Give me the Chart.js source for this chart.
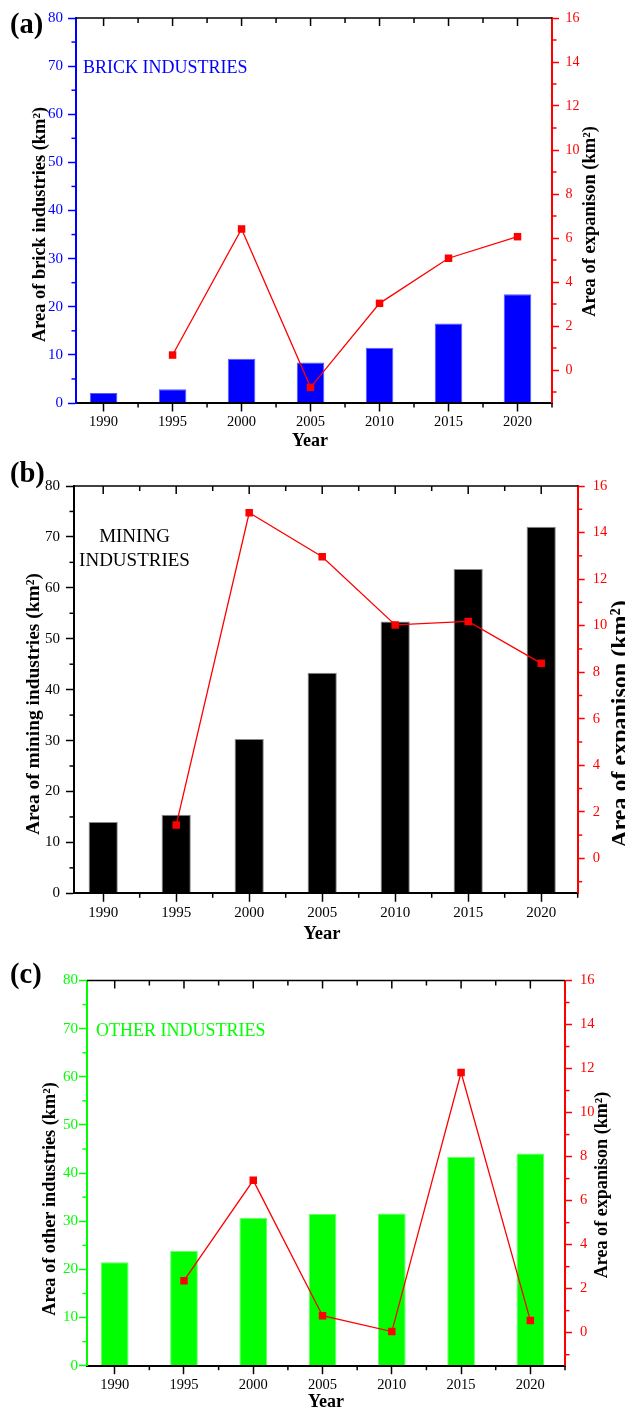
<!DOCTYPE html>
<html><head><meta charset="utf-8">
<script src="https://cdn.jsdelivr.net/npm/chart.js@4.4.0/dist/chart.umd.min.js"></script>
<style>
html,body{margin:0;padding:0;background:#fff;width:625px;height:1410px;overflow:hidden}
canvas{position:absolute;left:0}
</style></head><body>
<canvas id="ca" width="625" height="450" style="top:0px"></canvas>
<canvas id="cb" width="625" height="495" style="top:450px"></canvas>
<canvas id="cc" width="625" height="465" style="top:945px"></canvas>
<script>
// ---------- DATA ----------
const years = [1990, 1995, 2000, 2005, 2010, 2015, 2020];
const brickArea = [2.1, 2.85, 9.2, 8.4, 11.5, 16.5, 22.6];
const brickExpansion = [null, 0.68, 6.41, -0.79, 3.03, 5.08, 6.06];
const miningArea = [14.0, 15.45, 30.3, 43.3, 53.4, 63.7, 72.0];
const miningExpansion = [null, 1.43, 14.85, 12.96, 10.03, 10.18, 8.38];
const otherArea = [21.5, 23.8, 30.75, 31.5, 31.6, 43.4, 44.05];
const otherExpansion = [null, 2.36, 6.92, 0.77, 0.05, 11.82, 0.55];
const leftTicks = [0, 10, 20, 30, 40, 50, 60, 70, 80];
const rightTicks = [0, 2, 4, 6, 8, 10, 12, 14, 16];
const leftMinor = [5, 15, 25, 35, 45, 55, 65, 75];
const rightMinor = [-1, 1, 3, 5, 7, 9, 11, 13, 15];
const xMinor = [1992.5, 1997.5, 2002.5, 2007.5, 2012.5, 2017.5, 2022.5];

// ---------- STYLE ----------
const FONT = "'Liberation Serif', 'Times New Roman', serif";
const RED = '#ff0000';
Chart.defaults.font.family = FONT;
Chart.defaults.animation = false;

function seg(ctx, x1, y1, x2, y2) { ctx.beginPath(); ctx.moveTo(x1, y1); ctx.lineTo(x2, y2); ctx.stroke(); }
function vtext(ctx, t, x, y, size, color) {
  ctx.save(); ctx.translate(x, y); ctx.rotate(-Math.PI / 2);
  ctx.font = 'bold ' + size + 'px ' + FONT; ctx.fillStyle = color;
  ctx.textAlign = 'center'; ctx.textBaseline = 'alphabetic';
  ctx.fillText(t, 0, 0); ctx.restore();
}

function buildChart(id, bars, expansion, s) {
  const barData = years.map((y, i) => ({ x: y, y: bars[i] }));
  const lineData = years.map((y, i) => ({ x: y, y: expansion[i] }));
  const decor = {
    id: 'decor',
    afterDraw(chart) {
      const { ctx, chartArea: a, scales } = chart;
      const x = scales.x, y = scales.y, y1 = scales.y1;
      ctx.save();
      ctx.lineCap = 'butt';
      ctx.strokeStyle = '#000'; ctx.lineWidth = 1.5;
      seg(ctx, a.left, a.top, a.right, a.top);
      years.forEach(v => { const p = x.getPixelForValue(v); seg(ctx, p, a.top, p, a.top + 8); });
      xMinor.forEach(v => {
        const p = x.getPixelForValue(v);
        if (v < x.max) seg(ctx, p, a.top, p, a.top + 5);
        seg(ctx, p, a.bottom, p, a.bottom + 4.5);
      });
      ctx.strokeStyle = s.leftColor;
      leftMinor.forEach(v => { const p = y.getPixelForValue(v); seg(ctx, a.left, p, a.left - 4.5, p); });
      ctx.strokeStyle = RED;
      rightMinor.forEach(v => { const p = y1.getPixelForValue(v); seg(ctx, a.right, p, a.right + 4.5, p); });
      // panel label
      ctx.fillStyle = '#000'; ctx.textAlign = 'left'; ctx.textBaseline = 'alphabetic';
      ctx.font = 'bold 28.5px ' + FONT;
      ctx.fillText(s.label, 10, s.labelY);
      // annotations
      s.annot.forEach(t => {
        ctx.font = t.size + 'px ' + FONT; ctx.fillStyle = t.color; ctx.textAlign = t.align;
        ctx.fillText(t.text, t.x, t.y);
      });
      // axis titles
      vtext(ctx, s.leftTitle.text, s.leftTitle.x, s.leftTitle.y, s.leftTitle.size, '#000');
      vtext(ctx, s.rightTitle.text, s.rightTitle.x, s.rightTitle.y, s.rightTitle.size, '#000');
      ctx.font = 'bold ' + s.yearTitle.size + 'px ' + FONT; ctx.fillStyle = '#000'; ctx.textAlign = 'center';
      ctx.fillText('Year', s.yearTitle.x, s.yearTitle.y);
      ctx.restore();
    }
  };
  return new Chart(document.getElementById(id), {
    type: 'bar',
    data: {
      datasets: [
        { type: 'line', data: lineData, xAxisID: 'x', yAxisID: 'y1', order: 0,
          borderColor: RED, borderWidth: 1.3, backgroundColor: RED,
          pointStyle: 'rect', pointRadius: 5.3, pointBorderWidth: 0, pointBackgroundColor: RED,
          tension: 0, fill: false },
        { type: 'bar', data: barData, xAxisID: 'x', yAxisID: 'y', order: 1,
          backgroundColor: s.barColor, borderColor: s.barBorder, borderWidth: 1,
          categoryPercentage: 1, barPercentage: 0.4 }
      ]
    },
    options: {
      responsive: false, devicePixelRatio: 1, animation: false,
      layout: { padding: { top: s.area.top, left: 0, right: 0, bottom: 0 } },
      plugins: { legend: { display: false }, tooltip: { enabled: false } },
      scales: {
        x: {
          type: 'linear', position: 'bottom', min: 1988, max: 2022.5, offset: false,
          afterBuildTicks: sc => { sc.ticks = years.map(v => ({ value: v })); },
          afterFit: sc => { sc.height = s.h - s.area.bottom; },
          ticks: { callback: v => String(v), color: '#000', font: { size: s.xFont }, padding: s.xPad, maxRotation: 0, autoSkip: false },
          grid: { display: true, drawOnChartArea: false, drawTicks: true, tickLength: 8.5, tickWidth: 1.5, color: '#000', tickColor: '#000', offset: false },
          border: { display: true, color: '#000', width: 2, z: 1 }
        },
        y: {
          type: 'linear', position: 'left', min: 0, max: 80,
          afterBuildTicks: sc => { sc.ticks = leftTicks.map(v => ({ value: v })); },
          afterFit: sc => { sc.width = s.area.left; },
          ticks: { color: s.leftColor, font: { size: s.leftFont }, padding: s.leftPad },
          grid: { display: true, drawOnChartArea: false, drawTicks: true, tickLength: 8, tickWidth: 1.5, color: s.leftColor, tickColor: s.leftColor },
          border: { display: true, color: s.leftColor, width: 2, z: 1 }
        },
        y1: {
          type: 'linear', position: 'right', min: -1.5, max: 16,
          afterBuildTicks: sc => { sc.ticks = rightTicks.map(v => ({ value: v })); },
          afterFit: sc => { sc.width = 625 - s.area.right; },
          ticks: { color: RED, font: { size: s.rightFont }, padding: s.rightPad },
          grid: { display: true, drawOnChartArea: false, drawTicks: true, tickLength: 7, tickWidth: 1.5, color: RED, tickColor: RED },
          border: { display: true, color: RED, width: 2, z: 1 }
        }
      }
    },
    plugins: [decor]
  });
}

buildChart('ca', brickArea, brickExpansion, {
  h: 450, area: { left: 76, top: 18, right: 552, bottom: 403 },
  leftColor: '#0000ff', barColor: '#0000ff', barBorder: '#5a5aff',
  xFont: 14.5, xPad: 2, leftFont: 15, leftPad: 5, rightFont: 14, rightPad: 6.5,
  label: '(a)', labelY: 32.5,
  annot: [{ text: 'BRICK INDUSTRIES', x: 83, y: 73.3, size: 18, color: '#0000ff', align: 'left' }],
  leftTitle: { text: 'Area of brick industries (km²)', x: 44.5, y: 224.5, size: 18.4 },
  rightTitle: { text: 'Area of expanison (km²)', x: 595, y: 221.5, size: 18.5 },
  yearTitle: { x: 310, y: 446, size: 18 }
});

buildChart('cb', miningArea, miningExpansion, {
  h: 495, area: { left: 74, top: 36, right: 577.7, bottom: 443.3 },
  leftColor: '#000000', barColor: '#000000', barBorder: '#8a8a8a',
  xFont: 15, xPad: 2.7, leftFont: 15, leftPad: 6, rightFont: 14.5, rightPad: 8,
  label: '(b)', labelY: 31.7,
  annot: [
    { text: 'MINING', x: 134.5, y: 91.7, size: 19, color: '#000', align: 'center' },
    { text: 'INDUSTRIES', x: 134.5, y: 115.7, size: 19, color: '#000', align: 'center' }
  ],
  leftTitle: { text: 'Area of mining industries (km²)', x: 39, y: 254, size: 19.4 },
  rightTitle: { text: 'Area of expanison (km²)', x: 627, y: 274, size: 24 },
  yearTitle: { x: 322, y: 489, size: 18.5 }
});

buildChart('cc', otherArea, otherExpansion, {
  h: 465, area: { left: 87, top: 35.5, right: 565, bottom: 420.7 },
  leftColor: '#00ff00', barColor: '#00ff00', barBorder: '#66ff66',
  xFont: 14.5, xPad: 2.6, leftFont: 15, leftPad: 1, rightFont: 14.5, rightPad: 8,
  label: '(c)', labelY: 38.4,
  annot: [{ text: 'OTHER INDUSTRIES', x: 96, y: 91, size: 18, color: '#00ff00', align: 'left' }],
  leftTitle: { text: 'Area of other industries (km²)', x: 54.5, y: 254, size: 18.3 },
  rightTitle: { text: 'Area of expanison (km²)', x: 607, y: 240, size: 18.1 },
  yearTitle: { x: 326, y: 461.7, size: 18 }
});
</script>
</body></html>
